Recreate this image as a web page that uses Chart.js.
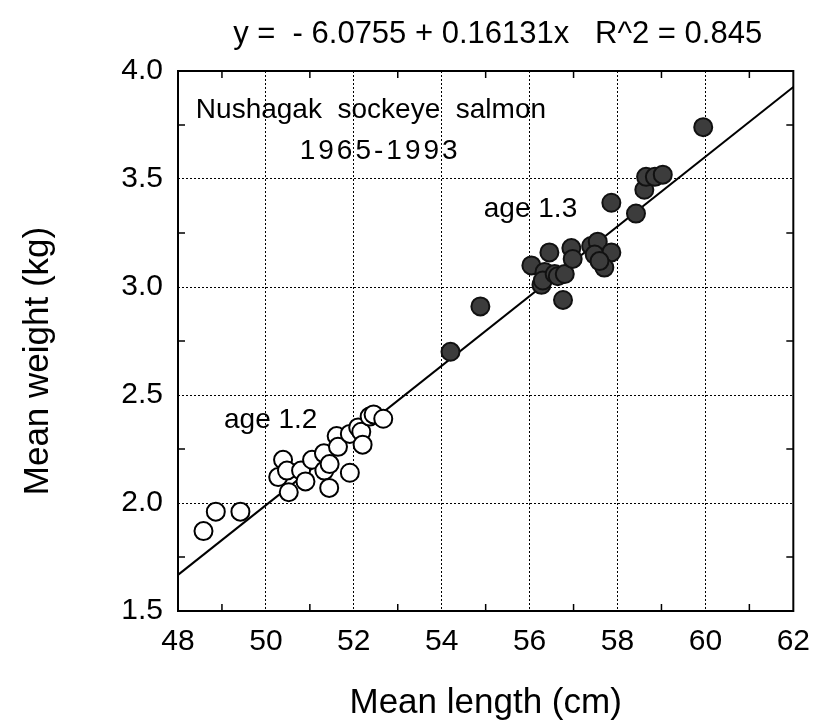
<!DOCTYPE html>
<html>
<head>
<meta charset="utf-8">
<script src="https://cdn.jsdelivr.net/npm/chart.js@4"></script>
<style>
html,body{margin:0;padding:0;background:#fff;}
#wrap{width:823px;height:728px;}
</style>
</head>
<body>
<div id="wrap"><canvas id="c" width="823" height="728"></canvas></div>
<script>
// ---- data ----
const age12Length = [48.58,48.86,49.42,50.28,50.39,50.48,50.52,50.80,50.90,51.05,51.32,51.33,51.45,51.44,51.61,51.64,51.91,51.91,52.10,52.17,52.20,52.36,52.45,52.67];
const age12Weight = [1.87,1.96,1.96,2.12,2.20,2.15,2.05,2.15,2.10,2.20,2.23,2.15,2.18,2.07,2.31,2.26,2.14,2.32,2.35,2.33,2.27,2.40,2.41,2.39];
const age13Length = [54.20,54.88,56.04,56.27,56.34,56.30,56.45,56.57,56.64,56.76,56.80,56.95,56.98,57.40,57.55,57.48,57.86,57.70,57.59,57.86,58.42,58.61,58.65,58.85,59.03,59.95];
const age13Weight = [2.70,2.91,3.10,3.01,3.07,3.03,3.16,3.06,3.05,2.94,3.06,3.18,3.13,3.19,3.21,3.15,3.16,3.09,3.12,3.39,3.34,3.45,3.51,3.51,3.52,3.74];
const fitIntercept = -6.0755;
const fitSlope = 0.16131;
const fitRange = [48, 62];
const xTicks = [48,50,52,54,56,58,60,62];
const yTicks = [1.5,2.0,2.5,3.0,3.5,4.0];
const titleText = 'y =  - 6.0755 + 0.16131x   R^2 = 0.845';
const xTitle = 'Mean length (cm)';
const yTitle = 'Mean weight (kg)';

const toPts = (xs, ys) => xs.map((x, i) => ({x: x, y: ys[i]}));
const fitPts = fitRange.map(x => ({x: x, y: fitIntercept + fitSlope * x}));

const FONT = '"Liberation Sans", Arial, sans-serif';

const decor = {
  id: 'decor',
  beforeDatasetsDraw(chart) {
    const {ctx, chartArea: a, scales: {x, y}} = chart;
    ctx.save();
    ctx.strokeStyle = '#000';
    ctx.lineWidth = 1.5;
    const L = 7;
    for (let v = 49; v < 62; v += 2) {
      const px = x.getPixelForValue(v);
      ctx.beginPath();
      ctx.moveTo(px, a.bottom); ctx.lineTo(px, a.bottom - L);
      ctx.moveTo(px, a.top); ctx.lineTo(px, a.top + L);
      ctx.stroke();
    }
    for (let v = 1.75; v < 4; v += 0.5) {
      const py = y.getPixelForValue(v);
      ctx.beginPath();
      ctx.moveTo(a.left, py); ctx.lineTo(a.left + L, py);
      ctx.moveTo(a.right, py); ctx.lineTo(a.right - L, py);
      ctx.stroke();
    }
    ctx.lineWidth = 2;
    ctx.strokeRect(a.left, a.top, a.right - a.left, a.bottom - a.top);
    ctx.restore();
  },
  afterDraw(chart) {
    const {ctx, chartArea: a, scales: {x, y}} = chart;
    ctx.save();
    ctx.fillStyle = '#000';
    ctx.textAlign = 'center';
    ctx.textBaseline = 'middle';
    ctx.font = '31px ' + FONT;
    ctx.fillText(titleText, (a.left + a.right) / 2 + 12, 34);
    ctx.font = '28px ' + FONT;
    ctx.fillText('Nushagak  sockeye  salmon', x.getPixelForValue(52.39), y.getPixelForValue(3.82));
    ctx.save();
    ctx.letterSpacing = '3px';
    ctx.fillText('1965-1993', x.getPixelForValue(52.6), y.getPixelForValue(3.63));
    ctx.restore();
    ctx.fillText('age 1.3', x.getPixelForValue(56.02), y.getPixelForValue(3.36));
    ctx.fillText('age 1.2', x.getPixelForValue(50.11), y.getPixelForValue(2.385));
    ctx.font = '35px ' + FONT;
    ctx.translate(38, (a.top + a.bottom) / 2 + 20);
    ctx.rotate(-Math.PI / 2);
    ctx.fillText(yTitle, 0, 0);
    ctx.restore();
  }
};

new Chart(document.getElementById('c'), {
  type: 'scatter',
  plugins: [decor],
  data: {
    datasets: [
      {
        type: 'line',
        label: 'fit',
        data: fitPts,
        borderColor: '#000',
        borderWidth: 2,
        pointRadius: 0,
        fill: false,
        order: 3
      },
      {
        label: 'age 1.2',
        data: toPts(age12Length, age12Weight),
        backgroundColor: '#fff',
        borderColor: '#000',
        borderWidth: 2,
        pointRadius: 9,
        order: 1
      },
      {
        label: 'age 1.3',
        data: toPts(age13Length, age13Weight),
        backgroundColor: '#3c3c3c',
        borderColor: '#111',
        borderWidth: 2,
        pointRadius: 9,
        order: 2
      }
    ]
  },
  options: {
    responsive: false,
    animation: false,
    layout: {padding: {top: 71, right: 29, left: 0, bottom: 0}},
    plugins: {
      legend: {display: false},
      title: {display: false},
      tooltip: {enabled: false}
    },
    scales: {
      x: {
        type: 'linear',
        min: 48, max: 62,
        afterBuildTicks: s => { s.ticks = xTicks.map(v => ({value: v})); },
        afterFit: s => { s.height = 117; },
        ticks: {color: '#000', font: {size: 30, family: FONT}, padding: 13, maxRotation: 0},
        grid: {color: '#000', lineWidth: 1, drawTicks: false},
        border: {display: false, dash: [2, 2]},
        title: {display: true, text: xTitle, color: '#000', font: {size: 35, family: FONT}, padding: {top: 0, bottom: 4}}
      },
      y: {
        type: 'linear',
        min: 1.5, max: 4.0,
        afterBuildTicks: s => { s.ticks = yTicks.map(v => ({value: v})); },
        afterFit: s => { s.width = 178; },
        ticks: {color: '#000', font: {size: 30, family: FONT}, padding: 15, callback: v => Number(v).toFixed(1)},
        grid: {color: '#000', lineWidth: 1, drawTicks: false},
        border: {display: false, dash: [2, 2]},
        title: {display: false}
      }
    }
  }
});
</script>
</body>
</html>
